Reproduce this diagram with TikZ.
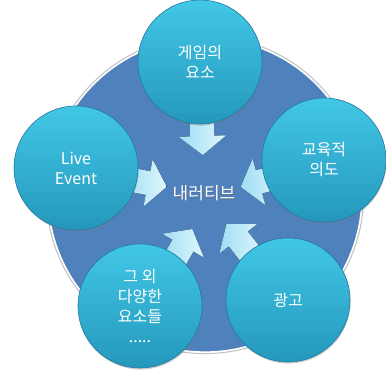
\documentclass[tikz,border=0pt]{standalone}
\usepackage{fontspec}
\setmainfont{Noto Sans CJK KR}
\usetikzlibrary{calc,shadows}
\definecolor{discblue}{RGB}{79,129,189}
\definecolor{bubtop}{RGB}{66,199,230}
\definecolor{bubbot}{RGB}{36,152,188}
\definecolor{bubedge}{RGB}{32,122,158}
\definecolor{arrA}{RGB}{160,221,243}
\definecolor{arrB}{RGB}{222,247,253}
\begin{document}
\begin{tikzpicture}[x=1pt,y=-1pt,
  bubble/.style={circle, minimum size=124pt, inner sep=0pt,
    top color=bubtop, bottom color=bubbot, draw=bubedge, line width=0.6pt,
    drop shadow={opacity=0.35, shadow xshift=0.6pt, shadow yshift=-1.6pt},
    text=white, align=center, font=\fontsize{16}{20}\selectfont},
  flowarrow/.style={left color=arrA, right color=arrB, draw=none}]
\useasboundingbox (0,0) rectangle (386,371);
\fill[white] (0,0) rectangle (386,371);

% large backdrop disc with a light rim
\draw[black!25, line width=1pt] (205,195) circle[radius=158.6pt];
\node[circle, minimum size=314pt, inner sep=0pt, fill=discblue,
      draw=white, line width=1.3pt] (disc) at (205,195) {};

% central label
\node[text=black!60, opacity=0.5, font=\fontsize{17}{20}\selectfont] at (204.8,193.8) {내러티브};
\node[text=white, font=\fontsize{17}{20}\selectfont] (nar) at (204,193) {내러티브};

% centres of the surrounding bubbles
\coordinate (top)  at (200,62);
\coordinate (lft)  at (76,168);
\coordinate (rgt)  at (324,160);
\coordinate (botl) at (140,306);
\coordinate (botr) at (288,300);

% block arrows converging on the centre (small per-arrow nudges)
\foreach \src/\dx/\dy in {top/0/0, lft/0/1, rgt/0/4, botl/7/3, botr/-1/1}{
  \pgfmathanglebetweenpoints{\pgfpointanchor{nar}{center}}{\pgfpointanchor{\src}{center}}
  \let\srcang\pgfmathresult
  \begin{scope}[shift={($(nar)!38pt!(\src)+(\dx,\dy)$)}, rotate=\srcang+180]
    \fill[flowarrow] (0,0) -- (-19,24) -- (-19,12) -- (-44,12)
      -- (-44,-12) -- (-19,-12) -- (-19,-24) -- cycle;
  \end{scope}
}

% bubbles
\node[bubble] (b1) at (top)  {게임의\\요소};
\node[bubble] (b2) at (rgt)  {교육적\\의도};
\node[bubble] (b3) at (botr) {광고};
\node[bubble] (b4) at (botl) {그 외\\다양한\\요소들\\.....};
\node[bubble] (b5) at (lft)  {Live\\Event};
\end{tikzpicture}
\end{document}
